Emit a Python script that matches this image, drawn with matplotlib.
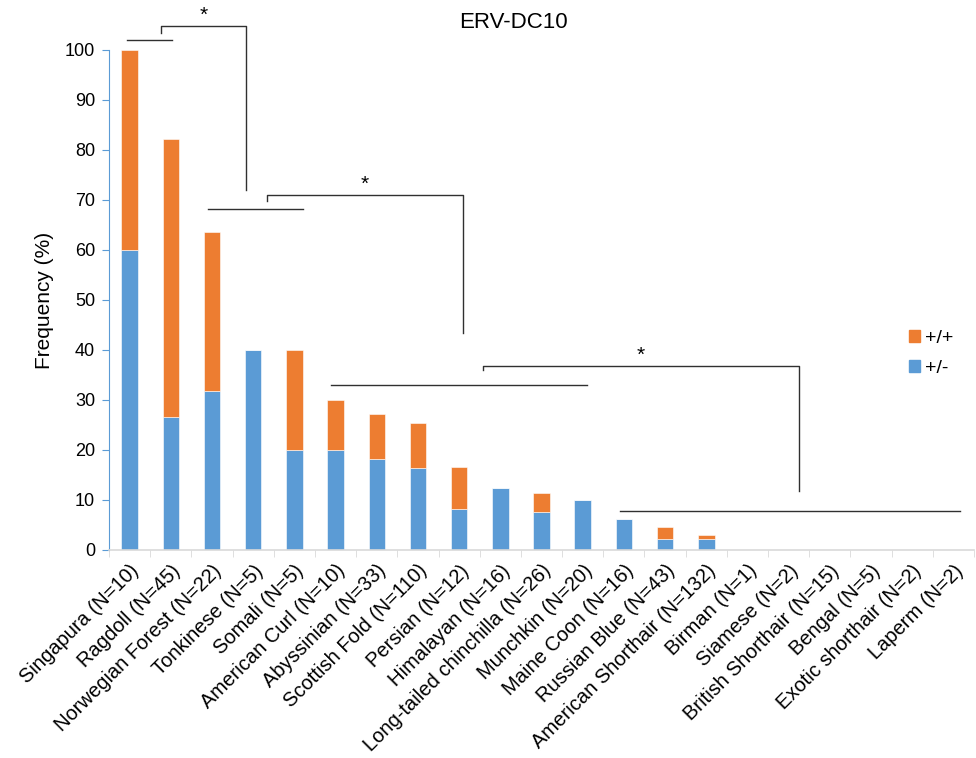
import matplotlib
matplotlib.use("Agg")
import matplotlib.pyplot as plt
import matplotlib.patches as mpatches
import numpy as np

plt.rcParams["font.family"] = ["Liberation Sans", "DejaVu Sans"]

# Breeds with sample sizes, and genotype frequencies (%) of ERV-DC10
breeds = [
    "Singapura (N=10)", "Ragdoll (N=45)", "Norwegian Forest (N=22)",
    "Tonkinese (N=5)", "Somali (N=5)", "American Curl (N=10)",
    "Abyssinian (N=33)", "Scottish Fold (N=110)", "Persian (N=12)",
    "Himalayan (N=16)", "Long-tailed chinchilla (N=26)", "Munchkin (N=20)",
    "Maine Coon (N=16)", "Russian Blue (N=43)", "American Shorthair (N=132)",
    "Birman (N=1)", "Siamese (N=2)", "British Shorthair (N=15)",
    "Bengal (N=5)", "Exotic shorthair (N=2)", "Laperm (N=2)",
]
hetero = [60.0, 26.7, 31.8, 40.0, 20.0, 20.0, 18.2, 16.4, 8.3, 12.5, 7.7,
          10.0, 6.25, 2.3, 2.27, 0, 0, 0, 0, 0, 0]
homo = [40.0, 55.6, 31.8, 0, 20.0, 10.0, 9.1, 9.1, 8.3, 0, 3.8,
        0, 0, 2.3, 0.76, 0, 0, 0, 0, 0, 0]

BLUE = "#5B9BD5"
ORANGE = "#ED7D31"

fig = plt.figure(figsize=(9.76, 7.58), dpi=100)
ax = fig.add_axes([109 / 976, 1 - 550 / 758, 865 / 976, 500 / 758])

x = np.arange(len(breeds))
ax.bar(x, hetero, width=0.4, color=BLUE, edgecolor="#ffffff", linewidth=0.4)
ax.bar(x, homo, width=0.4, bottom=hetero, color=ORANGE,
       edgecolor="#ffffff", linewidth=0.4)

ax.set_xlim(-0.5, len(breeds) - 0.5)
ax.set_ylim(0, 100)
ax.set_yticks(np.arange(0, 101, 10))
ax.tick_params(axis="y", labelsize=13, length=5, color=BLUE, pad=5)

# category labels centred on bars, ticks on the boundaries
ax.set_xticks(x)
ax.set_xticklabels(breeds, rotation=45, ha="right", rotation_mode="anchor",
                   fontsize=14.5)
ax.tick_params(axis="x", length=0, pad=8)
ax.set_xticks(np.arange(-0.5, len(breeds)), minor=True)
ax.tick_params(axis="x", which="minor", length=5, color="#d9d9d9")

for side in ("top", "right"):
    ax.spines[side].set_visible(False)
ax.spines["left"].set_color(BLUE)
ax.spines["bottom"].set_color("#d9d9d9")
ax.spines["bottom"].set_linewidth(1.2)

ax.set_ylabel("Frequency (%)", fontsize=15, labelpad=8)
fig.text(513 / 976, 1 - 22 / 758, "ERV-DC10", fontsize=16,
         ha="center", va="center")

# significance brackets: group line, then the bracket joining two groups
line_kw = dict(color="#303030", linewidth=1.0, clip_on=False)
group_lines = [(-0.07, 1.03, 102.1), (1.91, 4.2, 68.3),
               (4.9, 11.1, 33.1), (11.9, 20.16, 7.8)]
for x0, x1, yy in group_lines:
    ax.plot([x0, x1], [yy, yy], **line_kw)

brackets = [  # (left x, left y, top y, right x, right y, star x)
    (0.77, 103.4, 104.8, 2.83, 72.0, 1.79),
    (3.34, 69.8, 71.1, 8.09, 43.4, 5.7),
    (8.58, 36.0, 36.9, 16.24, 11.8, 12.4),
]
for lx, ly, top, rx, ry, sx in brackets:
    ax.plot([lx, lx, rx, rx], [ly, top, top, ry], **line_kw)
    ax.text(sx, top + 0.2, "*", ha="center", va="bottom", fontsize=15,
            clip_on=False)

handles = [mpatches.Patch(color=ORANGE, label="+/+"),
           mpatches.Patch(color=BLUE, label="+/-")]
ax.legend(handles=handles, loc="center left", bbox_to_anchor=(0.925, 0.393),
          frameon=False, fontsize=14, handlelength=0.57, handleheight=0.57,
          handletextpad=0.25, labelspacing=0.65, borderpad=0,
          borderaxespad=0)

fig.savefig("out.png", dpi=100)
